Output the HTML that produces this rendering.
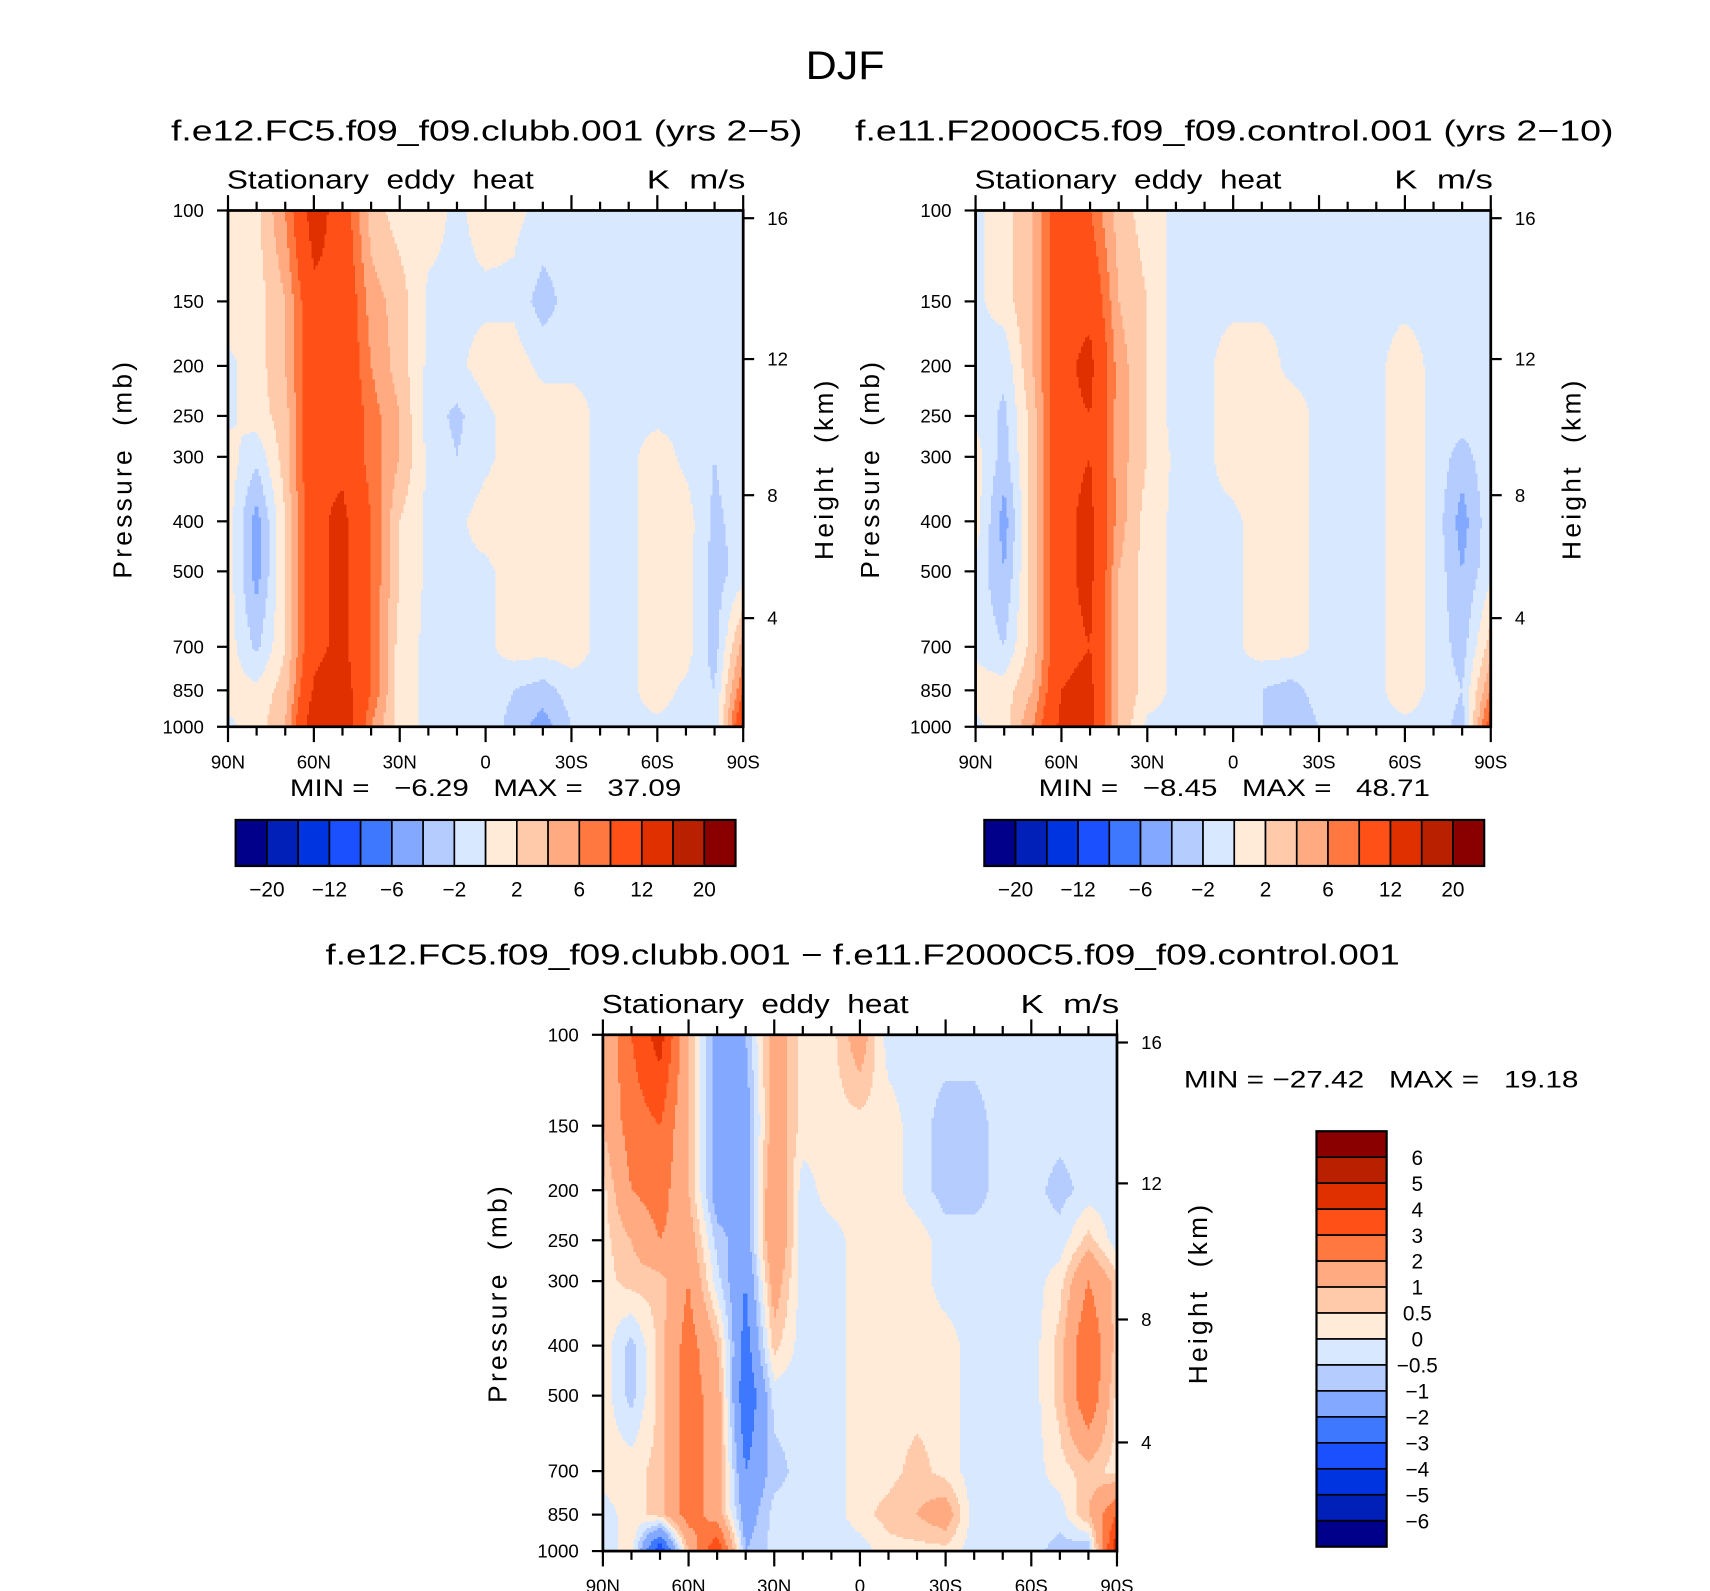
<!DOCTYPE html>
<html><head><meta charset="utf-8">
<style>
html,body{margin:0;padding:0;background:#fff;}
svg{display:block;}
text{font-family:"Liberation Sans",sans-serif;fill:#000;}
</style></head>
<body>
<svg id="fig" xmlns="http://www.w3.org/2000/svg" width="1710" height="1591" viewBox="0 0 1560 1451.4">
<text x="771" y="72" font-size="36" text-anchor="middle" textLength="72" lengthAdjust="spacingAndGlyphs">DJF</text>
<g id="root"></g>
</svg>
<script>
// ---- data ----
const lats = [90,80,70,60,50,40,30,20,10,0,-10,-20,-30,-40,-50,-60,-70,-80,-90];
const levels = [100,150,200,250,300,400,500,700,850,1000];
const colors = ["#00008a","#0020b8","#0034e0","#1a50ff","#3e78ff","#82a8ff","#b4ccff","#d8e8ff","#ffebd8","#ffcaaa","#ffaa80","#ff7840","#ff5018","#e03000","#b82000","#8a0000"];
const boundsTop = [-20,-16,-12,-8,-6,-4,-2,0,2,4,6,8,12,16,20];
const tickLabelsTop = ["-20","-12","-6","-2","2","6","12","20"];
const boundsDiff = [-6,-5,-4,-3,-2,-1,-0.5,0,0.5,1,2,3,4,5,6];
const tickLabelsDiff = ["-6","-5","-4","-3","-2","-1","-0.5","0","0.5","1","2","3","4","5","6"];
const latTicks = [90,60,30,0,-30,-60,-90];
const latLabels = ["90N","60N","30N","0","30S","60S","90S"];
const presTicks = [100,150,200,250,300,400,500,700,850,1000];
const heightTicks = [4,8,12,16];
const heightPres = [616,356,194,103.5];
const fieldA = [
[1,1.5,6,14,10,3,1,1,-0.5,1,0.5,-0.5,-1,-0.5,-0.5,-0.5,-0.5,-0.5,-0.5],
[1,1,4,11,11,5,3,-0.5,-0.5,-0.5,-0.5,-3,-1,-0.5,-0.5,-0.5,-0.5,-0.5,-0.5],
[-0.5,1,4,11,11,6,3,-0.5,-0.5,1,1,-0.5,-0.5,-0.5,-0.5,-0.5,-0.5,-0.5,-0.5],
[-0.5,1,3,11,11,7,4,-1,-2.5,-0.5,1,1,1,-0.5,-0.5,-0.5,-0.5,-0.5,-0.5],
[1,-1.5,3,11,11,7,4,-0.5,-2,-0.5,1,1,1,-0.5,-0.5,1,-0.5,-2,-0.5],
[1,-5,2,11,13,8,2,-0.5,-0.5,1,1,1,1,-0.5,-0.5,1,1,-2.5,-1],
[1,-5,2,11,13,8,2,-0.5,-0.5,-0.5,1,1,1,-0.5,-0.5,1,1,-3,-1],
[1,-2.5,2,11,13,8,1,-0.5,-0.5,-0.5,1,1,1,-0.5,-0.5,1,1,-3,5],
[1,0.5,3,12.5,14,8,1,-0.5,-0.5,-0.5,-2,-3,-1,-0.5,-0.5,1,-0.5,-2,8],
[-0.5,1,4,15,16,6,1,-0.5,-0.5,-0.5,-3,-5,-2,-0.5,-0.5,-0.5,-1,-2,12]];
const fieldB = [
[-0.5,1,4,11,8,3,1,-0.5,-0.5,-0.5,-0.5,-0.5,-0.5,-0.5,-0.5,-0.5,-0.5,-0.5,-0.5],
[-0.5,1,4,11,11,4,2,-1,-0.5,-0.5,-0.5,-0.5,-2,-0.5,-0.5,-0.5,-0.5,-0.5,-0.5],
[-0.5,-1.5,4,11,13,5,2,-1,-0.5,1,1,-0.5,-0.5,-0.5,-0.5,1,-0.5,-0.5,-0.5],
[-0.5,-2.5,3,11,12,5,2,-1,-0.5,1,1,1,-0.5,-0.5,-0.5,1,-0.5,-1,-0.5],
[1,-3,3,11,12,5,2,-0.5,-0.5,1,1,1,-0.5,-0.5,-0.5,1,-0.5,-3,-0.5],
[1,-5,3,11,13,5,1,-0.5,-0.5,-0.5,1,1,-0.5,-0.5,-0.5,1,-0.5,-5,-0.5],
[-0.5,-4,3,11,13,4,1,-0.5,-0.5,-0.5,1,1,-0.5,-0.5,-0.5,1,-0.5,-4,-0.5],
[-0.5,-2,3,11,12,4,1,-0.5,-0.5,-0.5,1,1,-0.5,-0.5,-0.5,1,-0.5,-3,3],
[1,1,4,12,13,4,1,-0.5,-0.5,-0.5,-2,-3,-1,-0.5,-0.5,1,-0.5,-2,6],
[-0.5,1,6,13,13,4,-0.5,-0.5,-0.5,-0.5,-2,-4,-2,-0.5,-0.5,-0.5,-0.5,-3,10]];
const fieldC = [
[1,3,4.5,1,-1.5,-1,1.5,0.3,0.3,1.5,-0.3,-0.3,-0.3,-0.3,-0.3,-0.3,-0.3,-0.3,-0.3],
[1,2.5,3,1,-1.5,-1.5,1.5,0.3,0.3,0.3,0.3,-0.3,-0.7,-0.7,-0.3,-0.3,-0.3,-0.3,-0.3],
[0.3,2,2.5,1,-1.5,-1.5,2,-0.3,0.3,0.3,0.3,-0.3,-0.7,-0.7,-0.3,-0.3,-0.7,-0.3,-0.3],
[0.3,1,2,1.5,-0.7,-1.5,2,-0.3,-0.3,0.3,0.3,0.3,-0.3,-0.3,-0.3,-0.3,-0.3,0.7,-0.3],
[0.3,0.7,0.7,2,-0.3,-2,1.5,-0.3,-0.3,0.3,0.3,0.3,-0.3,-0.3,-0.3,-0.3,0.3,2,0.7],
[0.3,-0.7,0.7,2.5,1,-2.5,0.7,-0.3,-0.3,0.3,0.3,0.3,0.3,-0.3,-0.3,-0.3,0.7,3,0.7],
[0.3,-0.7,0.7,2.5,1.5,-3,-0.3,-0.3,-0.3,0.3,0.3,0.3,0.3,-0.3,-0.3,-0.3,0.7,3,0.3],
[0.3,0.3,0.7,2.5,1.5,-2,-0.7,-0.3,-0.3,0.3,0.3,0.7,0.3,-0.3,-0.3,-0.3,0.3,0.7,0.3],
[-0.3,0.3,0.7,2.5,1.5,-1.5,-0.3,-0.3,-0.3,0.3,0.7,1,1.5,-0.3,-0.3,-0.3,-0.3,1,3],
[-0.3,0.3,-4,1,4,-1,-0.3,-0.3,-0.3,-0.3,0.3,0.3,0.3,-0.3,-0.3,-0.3,-0.7,-1,5]];

const NS="http://www.w3.org/2000/svg";
const root=document.getElementById('root');
function mk(tag,attrs,parent){const e=document.createElementNS(NS,tag);for(const k in attrs)e.setAttribute(k,attrs[k]);(parent||root).appendChild(e);return e;}
function txt(s,x,y,size,anchor,parent,extra){const t=mk('text',Object.assign({x:x,y:y,'font-size':size,'text-anchor':anchor||'start'},extra||{}),parent);t.textContent=s;return t;}
function minus(s){return s.replace(/-/g,'\u2212');}
function colorFor(v,b){let i=0;while(i<b.length&&v>=b[i])i++;return colors[i];}

function panel(opt){
  const g=mk('g',{});
  
  
  const x0=opt.x0,x1=opt.x1,y0=opt.y0,y1=opt.y1;
  const xs=lat=>x0+(90-lat)/180*(x1-x0);
  const ys=p=>y0+Math.log10(p/100)*(y1-y0);
  const fg=mk('g',{'shape-rendering':'crispEdges'},g);
  
  
  const step=2;
  function val(lat,p){
    let j=0;while(j<lats.length-2&&lat<lats[j+1])j++;
    let tx=(lats[j]-lat)/(lats[j]-lats[j+1]);
    let i=0;const lp=Math.log(p);
    while(i<levels.length-2&&p>levels[i+1])i++;
    let ty=(lp-Math.log(levels[i]))/(Math.log(levels[i+1])-Math.log(levels[i]));
    tx=Math.max(0,Math.min(1,tx));ty=Math.max(0,Math.min(1,ty));
    const f=opt.field;
    const a=f[i][j]*(1-tx)+f[i][j+1]*tx, b=f[i+1][j]*(1-tx)+f[i+1][j+1]*tx;
    return a*(1-ty)+b*ty;
  }
  for(let y=y0;y<y1;y+=step){
    const p=100*Math.pow(10,(y+step/2-y0)/(y1-y0));
    let runStart=x0,runColor=null;
    for(let x=x0;x<x1;x+=step){
      const lat=90-(Math.min(x+step/2,x1)-x0)/(x1-x0)*180;
      const c=colorFor(val(lat,p),opt.bounds);
      if(c!==runColor){
        if(runColor!==null){mk('rect',{x:runStart,y:y,width:x-runStart+0.5,height:Math.min(step,y1-y)+0.5,fill:runColor},fg);}
        runColor=c;runStart=x;
      }
    }
    if(runColor!==null){mk('rect',{x:runStart,y:y,width:x1-runStart,height:Math.min(step,y1-y)+0.5,fill:runColor},fg);}
  }
  mk('rect',{x:x0,y:y0,width:x1-x0,height:y1-y0,fill:'none',stroke:'#000','stroke-width':2.5},g);
  for(let lat=90;lat>=-90;lat-=10){
    const major=lat%30===0;const L=major?14:8;const x=xs(lat);
    mk('line',{x1:x,y1:y0,x2:x,y2:y0-L,stroke:'#000','stroke-width':2},g);
    mk('line',{x1:x,y1:y1,x2:x,y2:y1+L,stroke:'#000','stroke-width':2},g);
  }
  latTicks.forEach((lat,k)=>{const t=txt(latLabels[k],xs(lat),y1+38,17,'middle',g);
    });
  presTicks.forEach(p=>{const y=ys(p);
    mk('line',{x1:x0,y1:y,x2:x0-10,y2:y,stroke:'#000','stroke-width':2},g);
    const t=txt(String(p),x0-22,y+6,17,'end',g);
    });
  heightTicks.forEach((h,k)=>{const y=ys(heightPres[k]);
    mk('line',{x1:x1,y1:y,x2:x1+10,y2:y,stroke:'#000','stroke-width':2},g);
    const t=txt(String(h),x1+22,y+6,17,'start',g);
    });
  const yl=txt('Pressure\u00a0\u00a0(mb)',0,0,24,'middle',g,{transform:`translate(${x0-88},${(y0+y1)/2}) rotate(-90)`,'letter-spacing':'3'});
  
  const hl=txt('Height\u00a0\u00a0(km)',0,0,24,'middle',g,{transform:`translate(${x1+82},${(y0+y1)/2}) rotate(-90)`,'letter-spacing':'3'});
  
  const s1=txt('Stationary\u00a0\u00a0eddy\u00a0\u00a0heat',x0-1,y0-20,24,'start',g,{textLength:280,lengthAdjust:'spacingAndGlyphs'});
  
  const s2=txt('K\u00a0\u00a0m/s',x1+2,y0-20,24,'end',g,{textLength:90,lengthAdjust:'spacingAndGlyphs'});
  
  return g;
}

panel({name:'panel-clubb',x0:208,x1:678,y0:192,y1:663,field:fieldA,bounds:boundsTop});
panel({name:'panel-control',x0:890,x1:1360,y0:192,y1:663,field:fieldB,bounds:boundsTop});
panel({name:'panel-difference',x0:550,x1:1019,y0:944,y1:1415,field:fieldC,bounds:boundsDiff});

let t;
t=txt('f.e12.FC5.f09_f09.clubb.001 (yrs 2\u22125)',444,128,26,'middle',null,{textLength:576,lengthAdjust:'spacingAndGlyphs'});

t=txt('f.e11.F2000C5.f09_f09.control.001 (yrs 2\u221210)',1126,128,26,'middle',null,{textLength:692,lengthAdjust:'spacingAndGlyphs'});

t=txt('f.e12.FC5.f09_f09.clubb.001 \u2212 f.e11.F2000C5.f09_f09.control.001',787,880,26,'middle',null,{textLength:980,lengthAdjust:'spacingAndGlyphs'});

const SP='\u00a0\u00a0\u00a0';
t=txt('MIN\u00a0=\u00a0\u00a0\u00a0\u22126.29'+SP+'MAX\u00a0=\u00a0\u00a0\u00a037.09',443,726,22,'middle',null,{textLength:357,lengthAdjust:'spacingAndGlyphs'});

t=txt('MIN\u00a0=\u00a0\u00a0\u00a0\u22128.45'+SP+'MAX\u00a0=\u00a0\u00a0\u00a048.71',1126,726,22,'middle',null,{textLength:357,lengthAdjust:'spacingAndGlyphs'});

t=txt('MIN\u00a0=\u00a0\u221227.42'+SP+'MAX\u00a0=\u00a0\u00a0\u00a019.18',1260,992,22,'middle',null,{textLength:360,lengthAdjust:'spacingAndGlyphs'});


function hbar(x0,name){
  const g=mk('g',{});
  
  const w=(671-215)/16;
  colors.forEach((c,i)=>{const r=mk('rect',{x:x0+i*w,y:748,width:w,height:42,fill:c,stroke:'#000','stroke-width':1.5},g);
    });
  mk('rect',{x:x0,y:748,width:16*w,height:42,fill:'none',stroke:'#000','stroke-width':2},g);
  tickLabelsTop.forEach((s,k)=>{const tt=txt(minus(s),x0+(2*k+1)*w,818,19,'middle',g);
    });
}
hbar(215,'colorbar-clubb');
hbar(898,'colorbar-control');
(function(){
  const g=mk('g',{});
  
  const y0=1032,y1=1411,h=(y1-y0)/16;
  colors.slice().reverse().forEach((c,i)=>{const r=mk('rect',{x:1201,y:y0+i*h,width:64,height:h,fill:c,stroke:'#000','stroke-width':1.5},g);
    });
  mk('rect',{x:1201,y:y0,width:64,height:y1-y0,fill:'none',stroke:'#000','stroke-width':2},g);
  tickLabelsDiff.slice().reverse().forEach((s,k)=>{const tt=txt(minus(s),1293,y0+(k+1)*h+7,19,'middle',g);
    });
})();
</script>
</body></html>
